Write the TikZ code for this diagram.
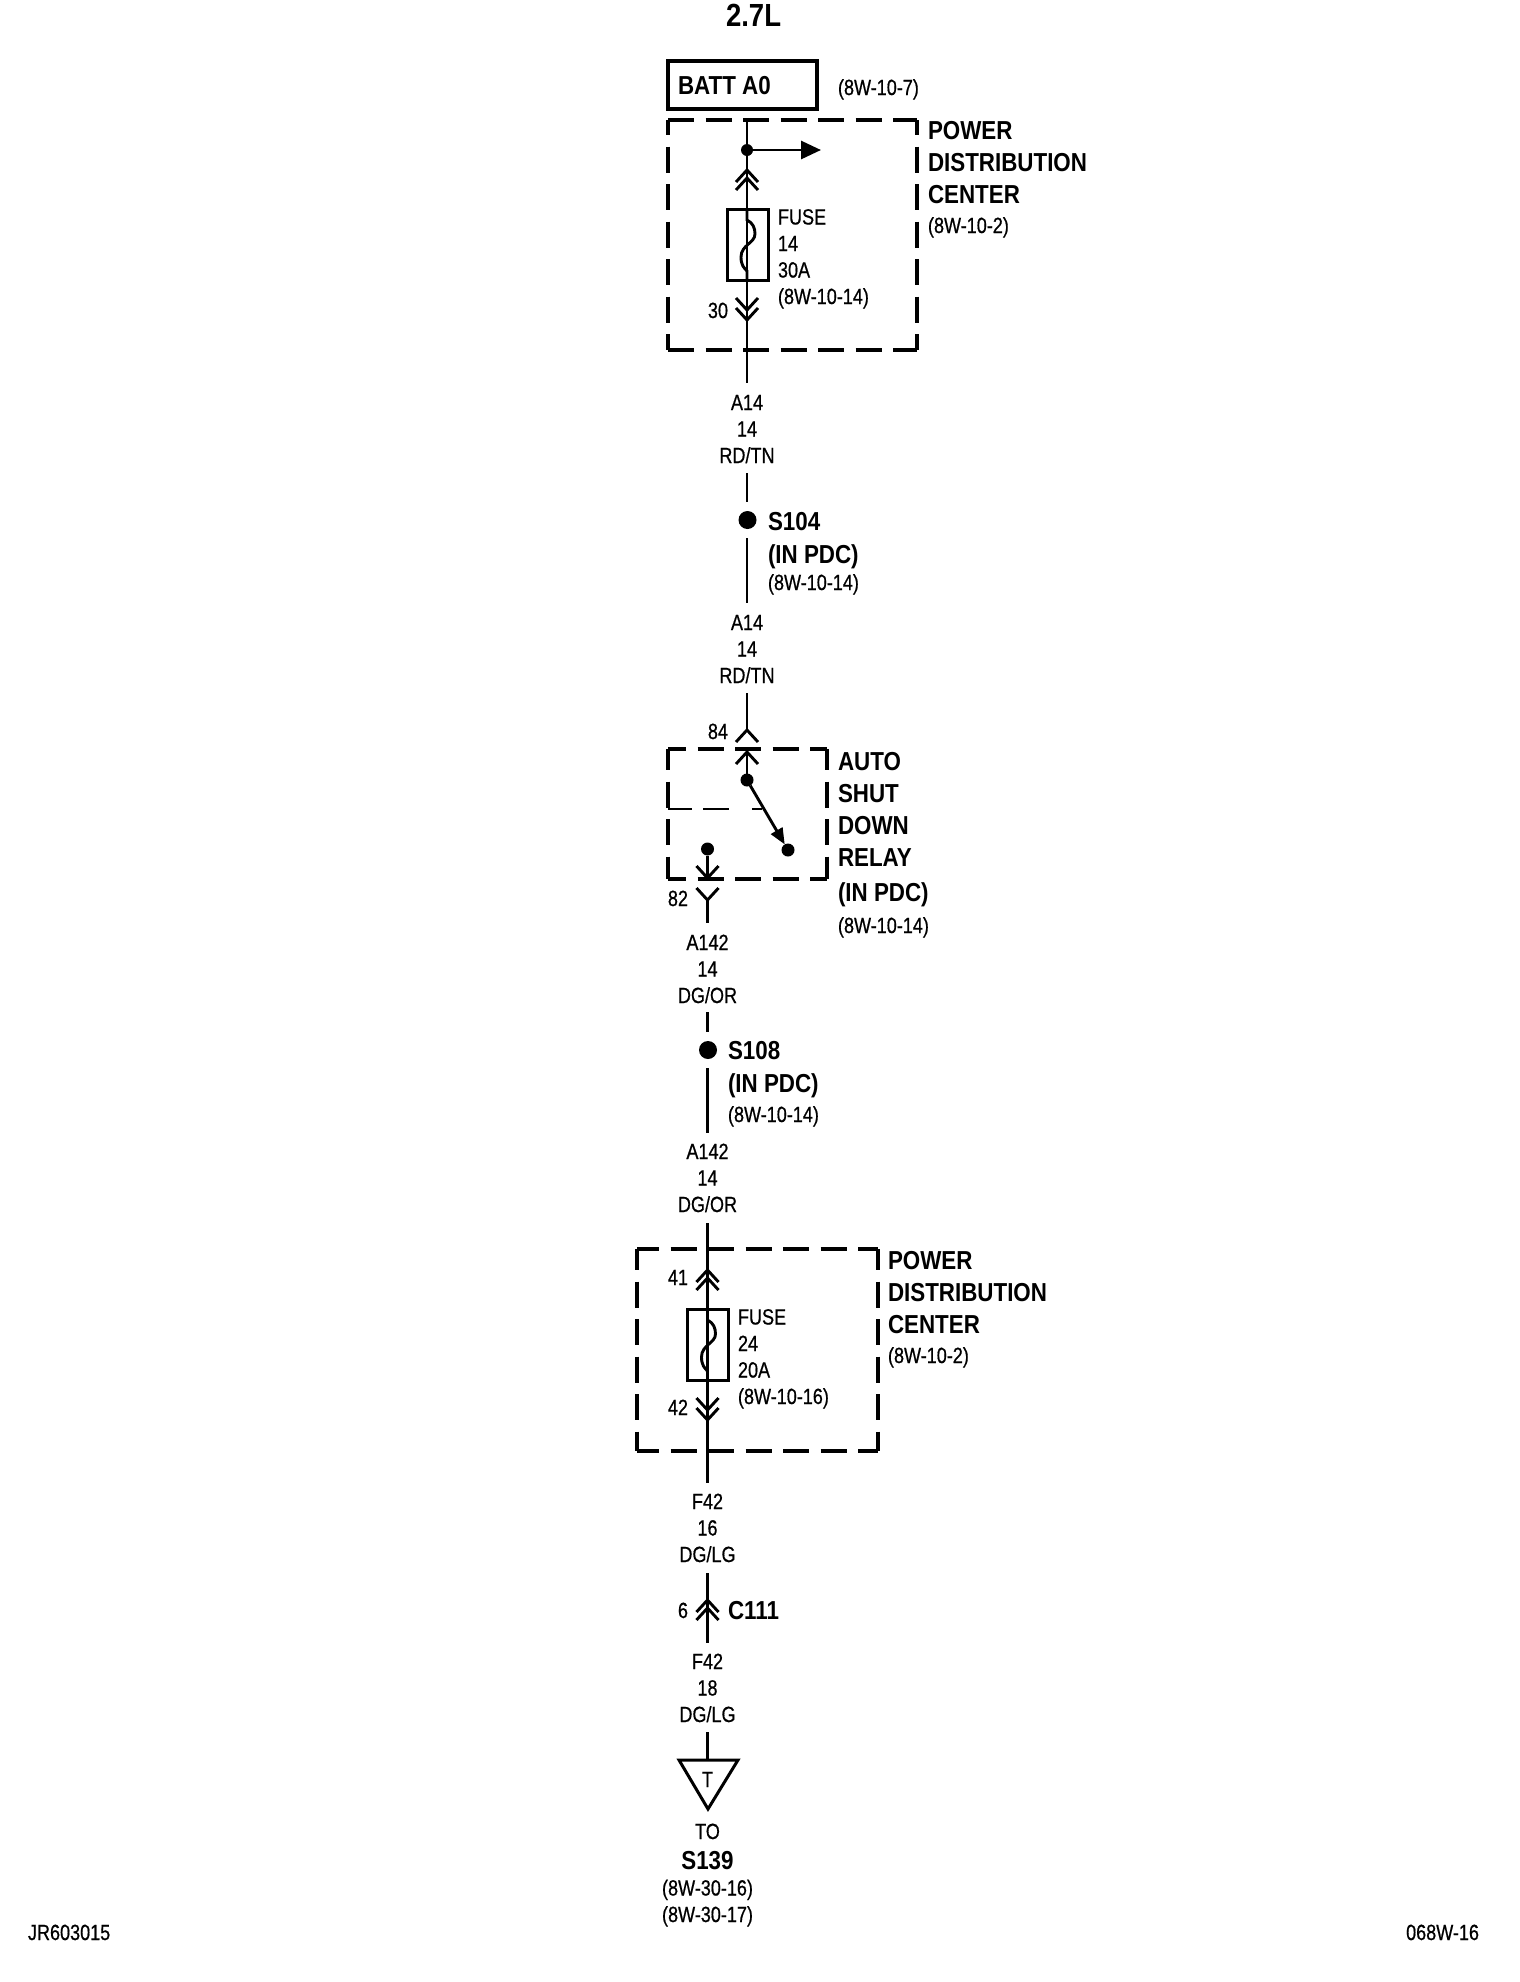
\documentclass[tikz,border=0pt]{standalone}
\usepackage{fontspec}
\setmainfont{Liberation Sans}[FakeStretch=0.82,FakeBold=0.6]
\newfontfamily\headfont{Liberation Sans}[FakeStretch=0.86]
\usetikzlibrary{arrows.meta,calc}

\begin{document}
\begin{tikzpicture}[% styles used in image code
        x = 0.5pt, y = -0.5pt,
     wire/.style = {line width=1.45pt},
 dash top/.style = {line width=2.1pt, dash pattern=on 13pt off 5.75pt, dash phase=#1},
  dot node/.style = {circle, fill, minimum size=6.5pt, inner sep=0pt, outer sep=0pt},
      txt/.style = {inner sep=0pt, outer sep=0pt, align=left, anchor=base west,
                    font=\fontsize{11}{13.25}\selectfont},
 wire txt/.style = {txt, align=center, anchor=base},
  pin txt/.style = {txt, anchor=base east},
     bold/.style = {inner sep=0pt, outer sep=0pt, align=left, anchor=base west,
                    font=\headfont\bfseries\fontsize{13}{16}\selectfont},
 chev up/.pic = {\draw[wire] (-11,12) -- (0,0) -- (11,12);},
 chev dn/.pic = {\draw[wire] (-11,-12) -- (0,0) -- (11,-12);},
 fuse box/.pic = {\draw[line width=1.5pt] (-20,0) rectangle (21,71);
                  \draw[wire] (0,0) -- (0,11) .. controls (6,14) and (8,19) .. (8,25)
                     .. controls (8,34) and (-6,36) .. (-6,48)
                     .. controls (-6,56) and (-3,59) .. (0,62) -- (0,71);}
                        ]
	\useasboundingbox (0,0) rectangle (1520,1982);

	% battery feed
	\node[bold, font=\headfont\bfseries\fontsize{16}{18}\selectfont] (title) at (726,26) {2.7L};
	\node[draw, line width=2pt, minimum width=74.5pt, minimum height=24pt, inner sep=0pt] (batt) at (742.5,85) {};
	\node[bold] (batttxt) at (678,94) {BATT A0};
	\node[txt] (battref) at (838,95) {(8W-10-7)};

	% first power distribution center
	\coordinate (pa) at (668,120);
	\coordinate (pb) at (917,120);
	\coordinate (pc) at (917,350);
	\coordinate (pd) at (668,350);
	\draw[dash top=0pt] (pa) -- (pb);
	\draw[dash top=0pt] (pd) -- (pc);
	\draw[dash top=5.5pt] (pa) -- (pd);
	\draw[dash top=5.5pt] (pb) -- (pc);
	\node[bold] (pdc1) at (928,203) {POWER\\DISTRIBUTION\\CENTER};
	\node[txt] (pdc1ref) at (928,233) {(8W-10-2)};

	\coordinate (w1) at (747,120);
	\coordinate (w2) at (747,383);
	\draw[wire] (w1) -- (w2);
	\node[dot node, minimum size=6pt] (tee) at (747,150) {};
	\coordinate (teeend) at (821,150);
	\draw[wire, -{Triangle[length=10pt,width=9pt]}] (tee) -- (teeend);
	\pic at (747,170) {chev up};
	\pic at (747,178) {chev up};
	\pic (fuse14) at (747,209) {fuse box};
	\pic at (747,310) {chev dn};
	\pic at (747,320) {chev dn};
	\node[txt] (fuse14txt) at (778,304) {FUSE\\14\\30A\\(8W-10-14)};
	\node[pin txt] (pin30) at (728,318) {30};

	% splice S104
	\node[wire txt] (a14a) at (747,463) {A14\\14\\RD/TN};
	\coordinate (w3) at (747,473);
	\coordinate (w3b) at (747,502);
	\node[dot node, minimum size=9pt] (s104) at (747.5,520) {};
	\coordinate (w4) at (747,538);
	\coordinate (w5) at (747,603);
	\draw[wire] (w3) -- (w3b);
	\draw[wire] (w4) -- (w5);
	\node[bold] (s104txt) at (768,563) {S104\\[0.5pt](IN PDC)};
	\node[txt] (s104ref) at (768,590) {(8W-10-14)};
	\node[wire txt] (a14b) at (747,683) {A14\\14\\RD/TN};

	% relay
	\coordinate (w6) at (747,693);
	\coordinate (w7) at (747,730);
	\draw[wire] (w6) -- (w7);
	\pic at (747,730) {chev up};
	\node[pin txt] (pin84) at (728,739) {84};
	\coordinate (ra) at (668,749);
	\coordinate (rb) at (827,749);
	\coordinate (rc) at (827,879);
	\coordinate (rd) at (668,879);
	\draw[dash top=4pt] (ra) -- (rb);
	\draw[dash top=4pt] (rd) -- (rc);
	\draw[dash top=2.5pt] (ra) -- (rd);
	\draw[dash top=2.5pt] (rb) -- (rc);
	\coordinate (ce) at (668,809);
	\coordinate (cf) at (762,809);
	\draw[line width=1.1pt, dash pattern=on 12pt off 5.5pt on 13pt off 11.5pt on 5pt off 5pt] (ce) -- (cf);
	\pic at (747,752) {chev up};
	\node[dot node] (com) at (747,780) {};
	\node[dot node] (no) at (788,850) {};
	\coordinate (w8) at (747,752);
	\draw[wire] (w8) -- (com);
	\draw[wire, -{Triangle[length=8pt,width=6.5pt]}] (com) -- (no);
	\node[dot node] (out) at (707.5,849) {};
	\coordinate (w9) at (707.5,923);
	\coordinate (w9a) at (707.5,878);
	\coordinate (w9b) at (707.5,900);
	\draw[wire] (out) -- (w9a);
	\pic at (707.5,878) {chev dn};
	\pic at (707.5,900) {chev dn};
	\draw[wire] (w9b) -- (w9);
	\node[pin txt] (pin82) at (688,906) {82};
	\node[bold] (relay) at (838,901) {AUTO\\SHUT\\DOWN\\RELAY\\[1.5pt](IN PDC)};
	\node[txt] (relayref) at (838,933) {(8W-10-14)};

	% splice S108
	\node[wire txt] (a142a) at (707.5,1003) {A142\\14\\DG/OR};
	\coordinate (w10) at (707.5,1012);
	\coordinate (w11) at (707.5,1032);
	\draw[wire] (w10) -- (w11);
	\node[dot node, minimum size=9pt] (s108) at (708,1050) {};
	\coordinate (w12) at (707.5,1068);
	\coordinate (w13) at (707.5,1133);
	\draw[wire] (w12) -- (w13);
	\node[bold] (s108txt) at (728,1092) {S108\\[0.5pt](IN PDC)};
	\node[txt] (s108ref) at (728,1122) {(8W-10-14)};
	\node[wire txt] (a142b) at (707.5,1212) {A142\\14\\DG/OR};

	% second power distribution center
	\coordinate (qa) at (637,1249);
	\coordinate (qb) at (878,1249);
	\coordinate (qc) at (878,1451);
	\coordinate (qd) at (637,1451);
	\draw[dash top=2pt] (qa) -- (qb);
	\draw[dash top=2pt] (qd) -- (qc);
	\draw[dash top=2.5pt] (qa) -- (qd);
	\draw[dash top=2.5pt] (qb) -- (qc);
	\node[bold] (pdc2) at (888,1333) {POWER\\DISTRIBUTION\\CENTER};
	\node[txt] (pdc2ref) at (888,1363) {(8W-10-2)};

	\coordinate (w14) at (707.5,1223);
	\coordinate (w15) at (707.5,1483);
	\draw[wire] (w14) -- (w15);
	\pic at (707.5,1270) {chev up};
	\pic at (707.5,1278) {chev up};
	\pic (fuse24) at (707.5,1309) {fuse box};
	\pic at (707.5,1410) {chev dn};
	\pic at (707.5,1420) {chev dn};
	\node[txt] (fuse24txt) at (738,1404) {FUSE\\24\\20A\\(8W-10-16)};
	\node[pin txt] (pin41) at (688,1285) {41};
	\node[pin txt] (pin42) at (688,1415) {42};

	% connector C111
	\node[wire txt] (f42a) at (707.5,1562) {F42\\16\\DG/LG};
	\coordinate (w16) at (707.5,1573);
	\coordinate (w17) at (707.5,1643);
	\draw[wire] (w16) -- (w17);
	\pic at (707.5,1600) {chev up};
	\pic at (707.5,1608) {chev up};
	\node[pin txt] (pin6) at (688,1618) {6};
	\node[bold] (c111) at (728,1619) {C111};
	\node[wire txt] (f42b) at (707.5,1722) {F42\\18\\DG/LG};

	% off page triangle
	\coordinate (w18) at (707.5,1732);
	\coordinate (ta) at (679,1760);
	\coordinate (tb) at (738,1760);
	\coordinate (tc) at (708,1809);
	\coordinate (w19) at (707.5,1760);
	\draw[wire] (w18) -- (w19);
	\draw[line width=1.5pt] (ta) -- (tb) -- (tc) -- cycle;
	\node[wire txt] (ttxt) at (707.5,1787) {T};
	\node[wire txt] (totxt) at (707.5,1839) {TO};
	\node[bold, anchor=base] (s139) at (707.5,1869) {S139};
	\node[wire txt] (s139ref) at (707.5,1922) {(8W-30-16)\\(8W-30-17)};

	% corner marks
	\node[txt] (jobno) at (28,1940) {JR603015};
	\node[pin txt] (pageno) at (1479,1940) {068W-16};
\end{tikzpicture}
\end{document}
